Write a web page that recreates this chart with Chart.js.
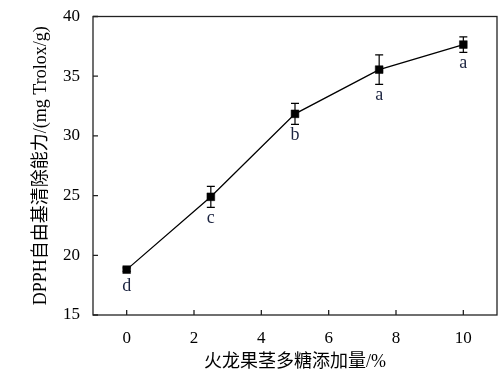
<!DOCTYPE html>
<html>
<head>
<meta charset="utf-8">
<script src="https://cdn.jsdelivr.net/npm/chart.js@4"></script>
<style>
  html, body { margin: 0; padding: 0; background: #fff; }
  #wrap { width: 504px; height: 377px; }
</style>
</head>
<body>
<div id="wrap"><canvas id="dpphChart" width="504" height="377"></canvas></div>
<script>
const amounts = [0, 2.5, 5, 7.5, 10];
const dpph = [18.8, 24.9, 31.85, 35.55, 37.65];
const errors = [0.15, 0.88, 0.88, 1.23, 0.65];
const letters = ['d', 'c', 'b', 'a', 'a'];
const xTicks = [0, 2, 4, 6, 8, 10];
const yTicks = [15, 20, 25, 30, 35, 40];

const FONT = "'Liberation Serif', 'Noto Sans CJK SC', serif";

// frame + inward ticks
const framePlugin = {
    id: 'frame',
    afterDraw(chart) {
        const { ctx, chartArea: a, scales } = chart;
        ctx.save();
        ctx.strokeStyle = '#222';
        ctx.lineWidth = 1.3;
        ctx.strokeRect(a.left, a.top, a.right - a.left, a.bottom - a.top);
        ctx.beginPath();
        xTicks.forEach(v => {
            const x = scales.x.getPixelForValue(v);
            ctx.moveTo(x, a.bottom);
            ctx.lineTo(x, a.bottom - 5);
        });
        yTicks.forEach(v => {
            const y = scales.y.getPixelForValue(v);
            ctx.moveTo(a.left, y);
            ctx.lineTo(a.left + 5, y);
        });
        ctx.stroke();
        ctx.restore();
    }
};

// error bars and significance letters
const errorPlugin = {
    id: 'errors',
    afterDatasetsDraw(chart) {
        const { ctx, scales } = chart;
        ctx.save();
        ctx.strokeStyle = '#000';
        ctx.lineWidth = 1.2;
        amounts.forEach((v, i) => {
            const x = scales.x.getPixelForValue(v);
            const top = scales.y.getPixelForValue(dpph[i] + errors[i]);
            const bot = scales.y.getPixelForValue(dpph[i] - errors[i]);
            ctx.beginPath();
            ctx.moveTo(x, top); ctx.lineTo(x, bot);
            ctx.moveTo(x - 4, top); ctx.lineTo(x + 4, top);
            ctx.moveTo(x - 4, bot); ctx.lineTo(x + 4, bot);
            ctx.stroke();
        });
        ctx.fillStyle = '#1c2440';
        ctx.font = '18px ' + FONT;
        ctx.textAlign = 'center';
        ctx.textBaseline = 'middle';
        amounts.forEach((v, i) => {
            const x = scales.x.getPixelForValue(v);
            const y = scales.y.getPixelForValue(dpph[i]);
            const bot = scales.y.getPixelForValue(dpph[i] - errors[i]);
            ctx.fillText(letters[i], x, Math.max(bot + 10.5, y + 17));
        });
        ctx.restore();
    }
};

new Chart(document.getElementById('dpphChart'), {
    type: 'line',
    data: {
        datasets: [{
            data: amounts.map((v, i) => ({ x: v, y: dpph[i] })),
            borderColor: '#000',
            borderWidth: 1.3,
            backgroundColor: '#000',
            pointStyle: 'rect',
            pointRadius: 5.5,
            pointBorderWidth: 0.5,
            tension: 0
        }]
    },
    options: {
        responsive: false,
        animation: false,
        layout: { padding: { top: 16.5, right: 7, left: 30, bottom: 0 } },
        plugins: { legend: { display: false }, tooltip: { enabled: false } },
        scales: {
            x: {
                type: 'linear',
                min: -1,
                max: 11,
                afterBuildTicks: s => { s.ticks = xTicks.map(v => ({ value: v })); },
                grid: { display: false, drawTicks: false },
                border: { display: false },
                ticks: { color: '#000', padding: 13, font: { family: FONT, size: 17 } },
                title: {
                    display: true,
                    text: '火龙果茎多糖添加量/%',
                    color: '#000',
                    padding: { top: 7 },
                    font: { family: FONT, size: 18 }
                },
                afterFit: s => { s.height = 62; s.paddingLeft = 0; s.paddingRight = 0; }
            },
            y: {
                min: 15,
                max: 40,
                afterBuildTicks: s => { s.ticks = yTicks.map(v => ({ value: v })); },
                grid: { display: false, drawTicks: false },
                border: { display: false },
                ticks: { color: '#000', padding: 13, font: { family: FONT, size: 17 } },
                title: {
                    display: true,
                    text: 'DPPH自由基清除能力/(mg Trolox/g)',
                    color: '#000',
                    padding: { top: 0, bottom: 0 },
                    font: { family: FONT, size: 18 }
                },
                afterFit: s => { s.width = 63; s.paddingTop = 0; s.paddingBottom = 0; }
            }
        }
    },
    plugins: [framePlugin, errorPlugin]
});
</script>
</body>
</html>
